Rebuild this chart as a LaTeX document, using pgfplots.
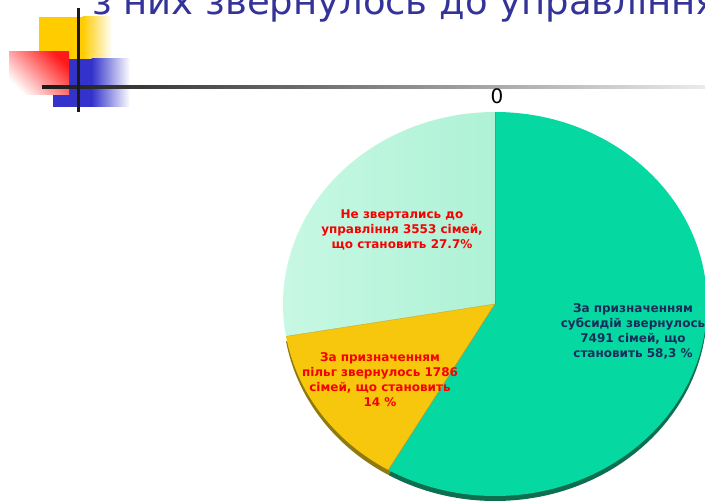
\documentclass[border=0pt]{standalone}
\usepackage{pgfplots}
\pgfplotsset{compat=1.18}
\usepackage{pgfplotstable}
\usepackage{fontspec}
\setmainfont{DejaVu Sans}
\definecolor{titleblue}{HTML}{333399}
\definecolor{pgreen}{HTML}{05D8A0}
\definecolor{pgreenrim}{HTML}{0E6E50}
\definecolor{pyellow}{HTML}{F6C70C}
\definecolor{pyellowrim}{HTML}{8F7A10}
\definecolor{mintL}{HTML}{C8F8E4}
\definecolor{mintR}{HTML}{AEF2D6}
\definecolor{labred}{HTML}{F80000}
\definecolor{labnavy}{HTML}{1B2C5C}
\definecolor{decyellow}{HTML}{FFCC00}
\definecolor{decblue}{HTML}{3333CC}
\definecolor{decred}{HTML}{FF1A1A}
\definecolor{linedark}{HTML}{1A1A1A}
\pgfplotstableread{
slice value
subs 7491
pilg 1786
none 3553
}\piedata
\begin{document}
\begin{tikzpicture}
\pgfplotstablegetelem{0}{value}\of\piedata \edef\va{\pgfplotsretval}
\pgfplotstablegetelem{1}{value}\of\piedata \edef\vb{\pgfplotsretval}
\pgfplotstablegetelem{2}{value}\of\piedata \edef\vc{\pgfplotsretval}
\pgfmathsetmacro\tot{\va+\vb+\vc}
\pgfmathsetmacro\aA{90-360*(\va/\tot)}
\pgfmathsetmacro\aB{\aA-360*(\vb/\tot)}
\useasboundingbox (0,0) rectangle (705bp,503bp);
\clip (0,0) rectangle (705bp,503bp);
\begin{axis}[at={(0,0)}, anchor=south west, scale only axis,
  width=705bp, height=503bp, xmin=0, xmax=705, ymin=0, ymax=503,
  hide axis, clip=false]
% decoration
\fill[decyellow] (axis cs:39,486) rectangle (axis cs:83,444);
\shade[left color=decyellow, right color=white] (axis cs:82.5,486) rectangle (axis cs:112,444);
\fill[decblue] (axis cs:53,444) rectangle (axis cs:92,396);
\shade[left color=decblue, right color=white] (axis cs:91.5,444) rectangle (axis cs:130,396);
\shade[left color=white, right color=decred, shading angle=135]
  (axis cs:9,408) rectangle (axis cs:69,451);
\shade[left color=linedark, right color=black!8] (axis cs:42,417.5) rectangle (axis cs:705,414.5);
\fill[linedark] (axis cs:76.5,495) rectangle (axis cs:79.5,391);
% title
\node[anchor=base west, text=titleblue, font=\fontsize{37bp}{44bp}\selectfont, inner sep=0pt]
  at (axis cs:92,488) {з них звернулось до управління};
\node[anchor=base, font=\fontsize{20bp}{24bp}\selectfont, inner sep=0pt] at (axis cs:497,399) {0};
% rim (3D edge)
\fill[pgreenrim] (axis cs:495,194) -- ++(90:212bp and 192bp)
  arc[start angle=90, end angle=\aA, x radius=212bp, y radius=192bp] -- cycle;
\fill[pyellowrim] (axis cs:495,194) -- ++(\aA:212bp and 192bp)
  arc[start angle=\aA, end angle=\aB, x radius=212bp, y radius=192bp] -- cycle;
% top faces
\fill[pgreen] (axis cs:495,199) -- ++(90:212bp and 192bp)
  arc[start angle=90, end angle=\aA, x radius=212bp, y radius=192bp] -- cycle;
\fill[pyellow] (axis cs:495,199) -- ++(\aA:212bp and 192bp)
  arc[start angle=\aA, end angle=\aB, x radius=212bp, y radius=192bp] -- cycle;
\shade[left color=mintL, right color=mintR] (axis cs:495,199) -- ++(\aB:212bp and 192bp)
  arc[start angle=\aB, end angle=-270, x radius=212bp, y radius=192bp] -- cycle;
\draw[pgreenrim!70, line width=0.6pt] (axis cs:495,199) -- ++(90:212bp and 192bp);
\draw[pyellowrim!80, line width=0.5pt] (axis cs:495,199) -- ++(\aA:212bp and 192bp);
\draw[pyellow!80!black, line width=0.4pt] (axis cs:495,199) -- ++(\aB:212bp and 192bp);
% labels
\node[font=\bfseries\fontsize{12bp}{15bp}\selectfont, text=labred, align=center]
  at (axis cs:402,273) {Не звертались до\\управління 3553 сімей,\\що становить 27.7\%};
\node[font=\bfseries\fontsize{12bp}{15bp}\selectfont, text=labred, align=center]
  at (axis cs:380,123) {За призначенням\\пільг звернулось 1786\\сімей, що становить\\14 \%};
\node[font=\bfseries\fontsize{12bp}{15bp}\selectfont, text=labnavy, align=center]
  at (axis cs:633,172) {За призначенням\\субсидій звернулось\\7491 сімей, що\\становить 58,3 \%};
\end{axis}
\end{tikzpicture}
\end{document}
